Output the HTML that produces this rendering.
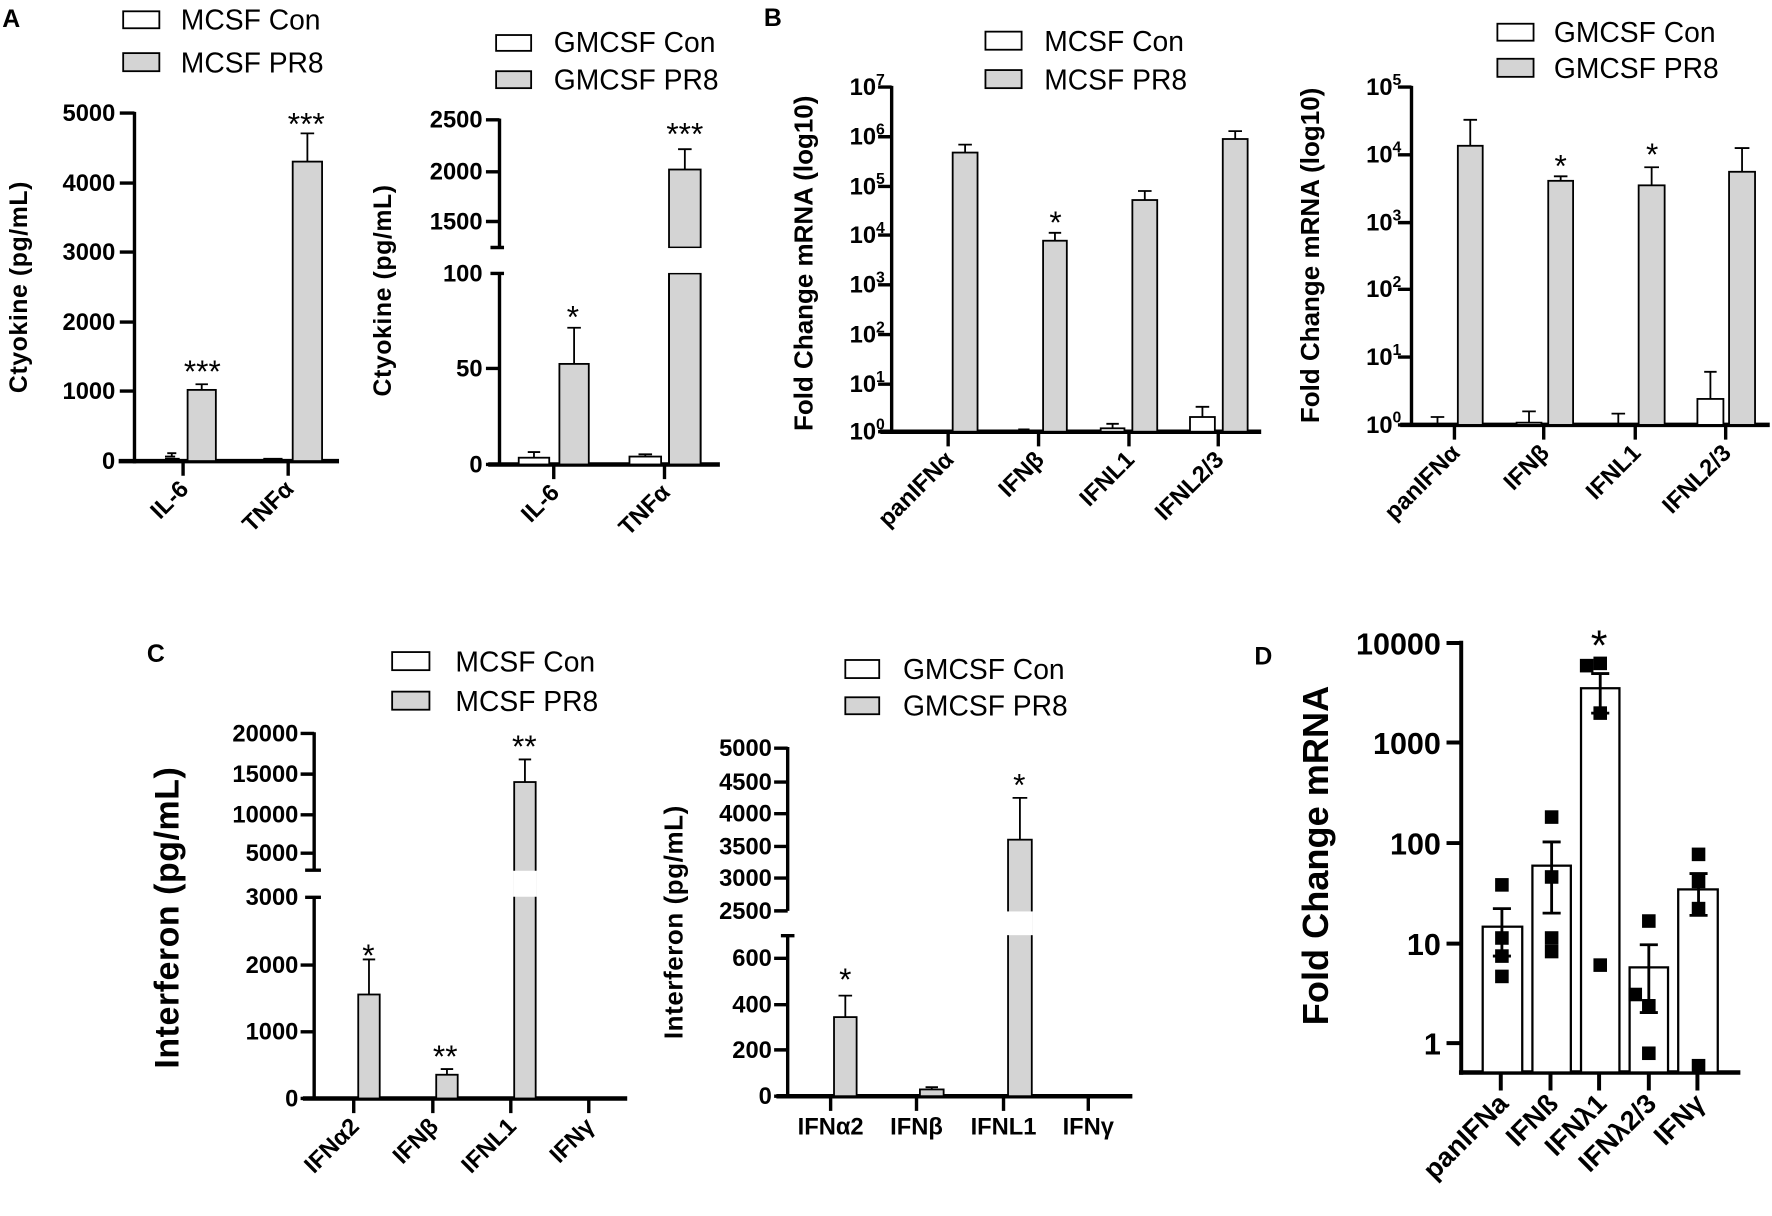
<!DOCTYPE html>
<html><head><meta charset="utf-8"><style>
html,body{margin:0;padding:0;background:#fff;}
svg{display:block;}
text{font-family:"Liberation Sans",sans-serif;fill:#000;}
.t{font-weight:bold;font-size:21px;}
.lg{font-size:25px;}
.yl{font-weight:bold;}
.xl{font-weight:bold;font-size:21px;}
.st{font-size:28px;}
</style></head><body>
<svg width="1772" height="1216" viewBox="0 0 1568 1076" preserveAspectRatio="none" xmlns="http://www.w3.org/2000/svg">
<g stroke="#000" fill="none" stroke-width="1.6">
<!-- ===== Panel A left ===== -->
<line x1="119" y1="99" x2="119" y2="410" stroke-width="3"/>
<line x1="105" y1="408" x2="300" y2="408" stroke-width="4"/>
<path d="M106 100H119M106 162H119M106 223H119M106 285H119M106 346H119M106 408H119" stroke-width="3"/>
<path d="M162 408V421M255 408V421" stroke-width="3"/>
<rect x="166" y="345" width="25" height="63" fill="#d4d4d4"/>
<path d="M178.5 345V340M173 340H184"/>
<rect x="259" y="143" width="26" height="265" fill="#d4d4d4"/>
<path d="M272 143V118M266 118H278"/>
<path d="M146 406H159M146 404H155M152 404V401M148 401H156"/>
<path d="M233 406H250"/>
<!-- ===== Panel A right ===== -->
<line x1="442" y1="105" x2="442" y2="219" stroke-width="3"/>
<line x1="442" y1="242" x2="442" y2="412" stroke-width="3"/>
<line x1="432" y1="411" x2="637" y2="411" stroke-width="4"/>
<path d="M430 106H442M430 152H442M430 196H442M434 219H446M434 242H446M430 326H442M430 411H442" stroke-width="3"/>
<path d="M490 411V424M588 411V424" stroke-width="3"/>
<rect x="459" y="405" width="27" height="6" fill="#fff"/>
<path d="M472.5 405V400M467 400H478"/>
<rect x="495" y="322" width="26" height="89" fill="#d4d4d4"/>
<path d="M508 322V290M502 290H514"/>
<rect x="557" y="404" width="28" height="7" fill="#fff"/>
<path d="M571 404V402M565 402H577"/>
<rect x="592" y="242" width="28" height="169" fill="#d4d4d4"/>
<path d="M592 242V411M620 242V411" />
<rect x="592" y="150" width="28" height="69" fill="#d4d4d4"/>
<rect x="591" y="219.5" width="30" height="22" fill="#fff" stroke="none"/>
<path d="M606 150V132M600 132H612"/>
<!-- ===== Panel B left ===== -->
<line x1="789" y1="76" x2="789" y2="383" stroke-width="3"/>
<line x1="779" y1="382" x2="1116" y2="382" stroke-width="4"/>
<path d="M777 77H789M777 121H789M777 165H789M777 208H789M777 252H789M777 296H789M777 340H789M777 382H789" stroke-width="3"/>
<path d="M839 382V395M919 382V395M999 382V395M1078 382V395" stroke-width="3"/>
<rect x="843" y="135" width="22" height="247" fill="#d4d4d4"/>
<path d="M854 135V128M848 128H860"/>
<rect x="923" y="213" width="21" height="169" fill="#d4d4d4"/>
<path d="M933.5 213V206M928 206H939"/>
<path d="M896 381H916M906 381V380M901 380H911"/>
<rect x="1002" y="177" width="22" height="205" fill="#d4d4d4"/>
<path d="M1013 177V169M1007 169H1019"/>
<rect x="974" y="379" width="21" height="3" fill="#fff"/>
<path d="M984.5 379V375M979 375H990"/>
<rect x="1082" y="123" width="22" height="259" fill="#d4d4d4"/>
<path d="M1093 123V116M1087 116H1099"/>
<rect x="1053" y="369" width="22" height="13" fill="#fff"/>
<path d="M1064 369V360M1058 360H1070"/>
<!-- ===== Panel B right ===== -->
<line x1="1249" y1="76" x2="1249" y2="377" stroke-width="3"/>
<line x1="1239" y1="376" x2="1566" y2="376" stroke-width="4"/>
<path d="M1237 77H1249M1237 137H1249M1237 197H1249M1237 256H1249M1237 316H1249M1237 376H1249" stroke-width="3"/>
<path d="M1287 376V389M1366 376V389M1447 376V389M1527 376V389" stroke-width="3"/>
<rect x="1290" y="129" width="22" height="247" fill="#d4d4d4"/>
<path d="M1301 129V106M1295 106H1307"/>
<path d="M1272 376V369M1266 369H1278"/>
<rect x="1370" y="160" width="22" height="216" fill="#d4d4d4"/>
<path d="M1381 160V156M1375 156H1387"/>
<rect x="1342" y="374" width="22" height="2" fill="#fff"/>
<path d="M1353 374V364M1347 364H1359"/>
<rect x="1450" y="164" width="23" height="212" fill="#d4d4d4"/>
<path d="M1461.5 164V148M1455 148H1468"/>
<path d="M1432 376V366M1426 366H1438"/>
<rect x="1530" y="152" width="23" height="224" fill="#d4d4d4"/>
<path d="M1541.5 152V131M1535 131H1548"/>
<rect x="1502" y="353" width="23" height="23" fill="#fff"/>
<path d="M1513.5 353V329M1508 329H1519"/>
<!-- ===== Panel C left ===== -->
<line x1="278" y1="648" x2="278" y2="770" stroke-width="3"/>
<line x1="278" y1="794" x2="278" y2="973" stroke-width="3"/>
<line x1="268" y1="972" x2="555" y2="972" stroke-width="4"/>
<path d="M266 649H278M266 685H278M266 721H278M266 755H278M270 770H284M270 794H284M266 854H278M266 913H278M266 972H278" stroke-width="3"/>
<path d="M313 972V985M383 972V985M452 972V985M521 972V985" stroke-width="3"/>
<rect x="317" y="880" width="19" height="92" fill="#d4d4d4"/>
<path d="M326.5 880V849M321 849H332"/>
<rect x="386" y="951" width="19" height="21" fill="#d4d4d4"/>
<path d="M395.5 951V946M390 946H401"/>
<rect x="455" y="692" width="19" height="280" fill="#d4d4d4"/>
<rect x="454" y="770.5" width="21" height="23" fill="#fff" stroke="none"/>
<path d="M464.5 692V672M459 672H470"/>
<!-- ===== Panel C right ===== -->
<line x1="697" y1="661" x2="697" y2="806" stroke-width="3"/>
<line x1="697" y1="828" x2="697" y2="971" stroke-width="3"/>
<line x1="687" y1="970" x2="1002" y2="970" stroke-width="4"/>
<path d="M685 662H697M685 692H697M685 720H697M685 749H697M685 777H697M685 806H697M691 828H703M685 848H697M685 889H697M685 929H697M685 970H697" stroke-width="3"/>
<path d="M735 970V983M811 970V983M888 970V983M963 970V983" stroke-width="3"/>
<rect x="738" y="900" width="20" height="70" fill="#d4d4d4"/>
<path d="M748 900V881M742 881H754"/>
<rect x="814" y="964" width="21" height="6" fill="#d4d4d4"/>
<path d="M824.5 964V962M819 962H830"/>
<rect x="892" y="743" width="21" height="227" fill="#d4d4d4"/>
<rect x="891" y="806.5" width="23" height="21" fill="#fff" stroke="none"/>
<path d="M902.5 743V706M896 706H909"/>
<!-- ===== Panel D ===== -->
<line x1="1293" y1="567" x2="1293" y2="951" stroke-width="3.5"/>
<line x1="1291" y1="949" x2="1540" y2="949" stroke-width="4"/>
<path d="M1280 569H1293M1280 657H1293M1280 746H1293M1280 835H1293M1280 923H1293" stroke-width="3.5"/>
<path d="M1328 949V965M1372 949V965M1415 949V965M1459 949V965M1502 949V965" stroke-width="3.5"/>
<g stroke-width="2">
<rect x="1312" y="820" width="35" height="129" fill="#fff"/>
<rect x="1356" y="766" width="34" height="183" fill="#fff"/>
<rect x="1399" y="609" width="34" height="340" fill="#fff"/>
<rect x="1442" y="856" width="34" height="93" fill="#fff"/>
<rect x="1485" y="787" width="35" height="162" fill="#fff"/>
</g>
<g stroke-width="2.5">
<path d="M1329 804V846M1321 804H1337M1321 846H1337"/>
<path d="M1373 745V808M1365 745H1381M1365 808H1381"/>
<path d="M1416 596V631M1408 596H1424M1408 631H1424"/>
<path d="M1459 836V896M1451 836H1467M1451 896H1467"/>
<path d="M1503 773V810M1495 773H1511M1495 810H1511"/>
</g>
</g>
<g fill="#000">
<rect x="1323" y="777" width="12" height="12"/><rect x="1323" y="824" width="12" height="12"/><rect x="1323" y="840" width="12" height="12"/><rect x="1323" y="858" width="12" height="12"/>
<rect x="1367" y="717" width="12" height="12"/><rect x="1367" y="770" width="12" height="12"/><rect x="1367" y="824" width="12" height="12"/><rect x="1367" y="836" width="12" height="12"/>
<rect x="1398" y="583" width="12" height="12"/><rect x="1410" y="581" width="12" height="12"/><rect x="1410" y="625" width="12" height="12"/><rect x="1410" y="848" width="12" height="12"/>
<rect x="1441" y="874" width="12" height="12"/><rect x="1453" y="809" width="12" height="12"/><rect x="1453" y="884" width="12" height="12"/><rect x="1453" y="926" width="12" height="12"/>
<rect x="1497" y="750" width="12" height="12"/><rect x="1497" y="774" width="12" height="12"/><rect x="1497" y="798" width="12" height="12"/><rect x="1497" y="937" width="12" height="12"/>
</g>
<!-- legends -->
<g stroke="#000" stroke-width="1.6">
<rect x="109" y="10" width="32" height="15" fill="#fff"/><rect x="109" y="47" width="32" height="16" fill="#d4d4d4"/>
<rect x="439" y="31" width="31" height="14" fill="#fff"/><rect x="439" y="63" width="31" height="15" fill="#d4d4d4"/>
<rect x="872" y="28" width="32" height="16" fill="#fff"/><rect x="872" y="62" width="32" height="16" fill="#d4d4d4"/>
<rect x="1325" y="21" width="32" height="15" fill="#fff"/><rect x="1325" y="52" width="32" height="16" fill="#d4d4d4"/>
<rect x="347" y="577" width="33" height="16" fill="#fff"/><rect x="347" y="612" width="33" height="16" fill="#d4d4d4"/>
<rect x="748" y="584" width="30" height="16" fill="#fff"/><rect x="748" y="617" width="30" height="15" fill="#d4d4d4"/>
</g>
<g class="lg">
<text x="160" y="26">MCSF Con</text><text x="160" y="64">MCSF PR8</text>
<text x="490" y="46">GMCSF Con</text><text x="490" y="79">GMCSF PR8</text>
<text x="924" y="45">MCSF Con</text><text x="924" y="79">MCSF PR8</text>
<text x="1375" y="37">GMCSF Con</text><text x="1375" y="69">GMCSF PR8</text>
<text x="403" y="594">MCSF Con</text><text x="403" y="629">MCSF PR8</text>
<text x="799" y="601">GMCSF Con</text><text x="799" y="633">GMCSF PR8</text>
</g>
<!-- panel letters -->
<g font-weight="bold" font-size="22">
<text x="2" y="24">A</text><text x="676" y="23">B</text><text x="130" y="586">C</text><text x="1110" y="588">D</text>
</g>
<!-- A tick labels -->
<g class="t" text-anchor="end">
<text x="102" y="107">5000</text><text x="102" y="169">4000</text><text x="102" y="230">3000</text><text x="102" y="292">2000</text><text x="102" y="353">1000</text><text x="102" y="415">0</text>
<text x="427" y="113">2500</text><text x="427" y="159">2000</text><text x="427" y="203">1500</text><text x="427" y="249">100</text><text x="427" y="333">50</text><text x="427" y="418">0</text>
</g>
<text class="yl" font-size="22" letter-spacing="0.5" transform="translate(24,254) rotate(-90)" text-anchor="middle">Ctyokine (pg/mL)</text>
<text class="yl" font-size="22" letter-spacing="0.5" transform="translate(346,257) rotate(-90)" text-anchor="middle">Ctyokine (pg/mL)</text>
<g class="st" text-anchor="middle">
<text x="179" y="338">***</text><text x="271" y="119">***</text>
<text x="507" y="290">*</text><text x="606" y="128">***</text>
<text x="934" y="206">*</text><text x="1381" y="156">*</text><text x="1462" y="146">*</text>
<text x="326" y="855">*</text><text x="394" y="944">**</text><text x="464" y="670">**</text>
<text x="748" y="876">*</text><text x="902" y="704">*</text>
<text x="1415" y="584" font-size="38">*</text>
</g>
<g class="xl" text-anchor="end">
<text transform="translate(168,434) rotate(-45)">IL-6</text>
<text transform="translate(261,434) rotate(-45)">TNFα</text>
<text transform="translate(496,437) rotate(-45)">IL-6</text>
<text transform="translate(594,437) rotate(-45)">TNFα</text>
<text transform="translate(845,408) rotate(-45)">panIFNα</text>
<text transform="translate(925,408) rotate(-45)">IFNβ</text>
<text transform="translate(1005,408) rotate(-45)">IFNL1</text>
<text transform="translate(1084,408) rotate(-45)">IFNL2/3</text>
<text transform="translate(1293,402) rotate(-45)">panIFNα</text>
<text transform="translate(1372,402) rotate(-45)">IFNβ</text>
<text transform="translate(1453,402) rotate(-45)">IFNL1</text>
<text transform="translate(1533,402) rotate(-45)">IFNL2/3</text>
<text transform="translate(319,998) rotate(-45)">IFNα2</text>
<text transform="translate(389,998) rotate(-45)">IFNβ</text>
<text transform="translate(458,998) rotate(-45)">IFNL1</text>
<text transform="translate(527,998) rotate(-45)">IFNγ</text>
</g>
<!-- B tick labels -->
<g class="t" text-anchor="end">
<text x="783" y="84">10<tspan dy="-9" font-size="14">7</tspan></text>
<text x="783" y="128">10<tspan dy="-9" font-size="14">6</tspan></text>
<text x="783" y="172">10<tspan dy="-9" font-size="14">5</tspan></text>
<text x="783" y="215">10<tspan dy="-9" font-size="14">4</tspan></text>
<text x="783" y="259">10<tspan dy="-9" font-size="14">3</tspan></text>
<text x="783" y="303">10<tspan dy="-9" font-size="14">2</tspan></text>
<text x="783" y="347">10<tspan dy="-9" font-size="14">1</tspan></text>
<text x="783" y="389">10<tspan dy="-9" font-size="14">0</tspan></text>
<text x="1240" y="84">10<tspan dy="-9" font-size="14">5</tspan></text>
<text x="1240" y="144">10<tspan dy="-9" font-size="14">4</tspan></text>
<text x="1240" y="204">10<tspan dy="-9" font-size="14">3</tspan></text>
<text x="1240" y="263">10<tspan dy="-9" font-size="14">2</tspan></text>
<text x="1240" y="323">10<tspan dy="-9" font-size="14">1</tspan></text>
<text x="1240" y="383">10<tspan dy="-9" font-size="14">0</tspan></text>
</g>
<text class="yl" font-size="23" transform="translate(719,233) rotate(-90)" text-anchor="middle">Fold Change mRNA (log10)</text>
<text class="yl" font-size="23" transform="translate(1167,226) rotate(-90)" text-anchor="middle">Fold Change mRNA (log10)</text>
<!-- C tick labels -->
<g class="t" text-anchor="end" font-size="22">
<text x="264" y="656">20000</text><text x="264" y="692">15000</text><text x="264" y="728">10000</text><text x="264" y="762">5000</text>
<text x="264" y="801">3000</text><text x="264" y="861">2000</text><text x="264" y="920">1000</text><text x="264" y="979">0</text>
<text x="683" y="669">5000</text><text x="683" y="699">4500</text><text x="683" y="727">4000</text><text x="683" y="756">3500</text><text x="683" y="784">3000</text><text x="683" y="813">2500</text>
<text x="683" y="855">600</text><text x="683" y="896">400</text><text x="683" y="936">200</text><text x="683" y="977">0</text>
</g>
<text class="yl" font-size="30" letter-spacing="0.5" transform="translate(158,812) rotate(-90)" text-anchor="middle">Interferon (pg/mL)</text>
<text class="yl" font-size="23" letter-spacing="0.5" transform="translate(604,816) rotate(-90)" text-anchor="middle">Interferon (pg/mL)</text>
<g font-weight="bold" font-size="21" text-anchor="middle">
<text x="735" y="1004">IFNα2</text><text x="811" y="1004">IFNβ</text><text x="888" y="1004">IFNL1</text><text x="963" y="1004">IFNγ</text>
</g>
<!-- D labels -->
<g font-weight="bold" font-size="27" text-anchor="end">
<text x="1275" y="579">10000</text><text x="1275" y="667">1000</text><text x="1275" y="756">100</text><text x="1275" y="845">10</text><text x="1275" y="933">1</text>
</g>
<text font-weight="bold" font-size="32" transform="translate(1175,757) rotate(-90)" text-anchor="middle">Fold Change mRNA</text>
<g font-weight="bold" font-size="24" text-anchor="end">
<text transform="translate(1336,978) rotate(-45)">panIFNa</text>
<text transform="translate(1380,978) rotate(-45)">IFNß</text>
<text transform="translate(1423,978) rotate(-45)">IFNλ1</text>
<text transform="translate(1467,978) rotate(-45)">IFNλ2/3</text>
<text transform="translate(1510,978) rotate(-45)">IFNγ</text>
</g>
</svg>
</body></html>
